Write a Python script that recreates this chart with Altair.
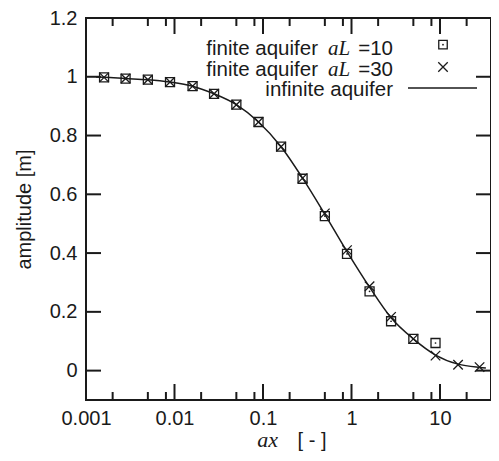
import altair as alt
import pandas as pd

# ---- data ----
x_pts = [0.0016, 0.0028, 0.005, 0.0089, 0.016, 0.028, 0.05, 0.089, 0.16,
         0.28, 0.5, 0.89, 1.6, 2.8, 5.0, 8.9, 16, 28]
amp_L10 = [0.998, 0.994, 0.990, 0.982, 0.968, 0.942, 0.905, 0.846, 0.762,
           0.653, 0.526, 0.397, 0.270, 0.168, 0.108, 0.094]
amp_L30 = [0.998, 0.994, 0.990, 0.982, 0.968, 0.942, 0.905, 0.846, 0.762,
           0.655, 0.535, 0.410, 0.287, 0.183, 0.108, 0.051, 0.020, 0.012]
curve_x = [0.0013, 0.0016, 0.0028, 0.005, 0.0089, 0.016, 0.028, 0.05, 0.089,
           0.16, 0.28, 0.5, 0.89, 1.6, 2.8, 5.0, 8.9, 16, 28, 33]
curve_amp = [0.999, 0.998, 0.994, 0.990, 0.982, 0.968, 0.942, 0.905, 0.846,
             0.762, 0.655, 0.532, 0.405, 0.284, 0.180, 0.108, 0.053, 0.022,
             0.011, 0.009]

x_major = [0.001, 0.01, 0.1, 1, 10]
x_minor = [0.002, 0.005, 0.008, 0.02, 0.05, 0.08, 0.2, 0.5, 0.8, 2, 5, 8, 20]
y_ticks = [0, 0.2, 0.4, 0.6, 0.8, 1.0, 1.2]

W, H = 405, 382
INK = "#1a1a1a"
SANS = "Liberation Sans"
SERIF = "Liberation Serif"

xscale = alt.Scale(type="log", domain=[0.001, 37.7], nice=False)
yscale = alt.Scale(domain=[-0.1, 1.2], nice=False, zero=False)

df_L10 = pd.DataFrame({"x": x_pts[:len(amp_L10)], "y": amp_L10})
df_L30 = pd.DataFrame({"x": x_pts, "y": amp_L30})
df_curve = pd.DataFrame({"x": curve_x, "y": curve_amp})
df_xmaj = pd.DataFrame({"x": x_major})
df_xmin = pd.DataFrame({"x": x_minor})
df_yt = pd.DataFrame({"y": y_ticks})

x_axis = alt.Axis(values=x_major, format="~g", ticks=False, labelFlush=False,
                  domain=False, grid=False, labelFont=SANS, labelFontSize=20,
                  labelColor=INK, labelPadding=24, labelBaseline="alphabetic",
                  title=None)
y_axis = alt.Axis(values=y_ticks, format=".1~f", ticks=False, labelFlush=False,
                  domain=False, grid=False, labelFont=SANS, labelFontSize=20,
                  labelColor=INK, labelPadding=9, labelBaseline="middle",
                  title="amplitude [m]", titleFont=SANS, titleFontSize=20,
                  titleFontWeight="normal", titleColor=INK, titleX=-62,
                  titleY=H / 2, titleAngle=270, titleBaseline="middle",
                  titleAlign="center")


def X():
    return alt.X("x:Q", scale=xscale, axis=x_axis)


def Y():
    return alt.Y("y:Q", scale=yscale, axis=y_axis)


curve = alt.Chart(df_curve).mark_line(color=INK, strokeWidth=1.5,
                                      interpolate="monotone").encode(
    x=X(), y=Y())

squares = alt.Chart(df_L10).mark_point(shape="square", filled=False, size=81,
                                       color=INK, strokeWidth=1.3, opacity=1).encode(
    x=X(), y=Y())
dots = alt.Chart(df_L10).mark_point(shape="circle", filled=True, size=3,
                                    color=INK, opacity=1).encode(x=X(), y=Y())
CROSS = "M-1,-1L1,1M-1,1L1,-1"
crosses = alt.Chart(df_L30).mark_point(shape=CROSS, filled=False, size=90,
                                       color=INK, strokeWidth=1.3, opacity=1).encode(
    x=X(), y=Y())

# inward ticks
tick_layers = [
    alt.Chart(df_xmaj).mark_rule(color=INK, strokeWidth=2).encode(
        x=X(), y=alt.value(H), y2=alt.value(H - 16)),
    alt.Chart(df_xmaj).mark_rule(color=INK, strokeWidth=2).encode(
        x=X(), y=alt.value(0), y2=alt.value(16)),
    alt.Chart(df_xmin).mark_rule(color=INK, strokeWidth=2).encode(
        x=X(), y=alt.value(H), y2=alt.value(H - 8)),
    alt.Chart(df_xmin).mark_rule(color=INK, strokeWidth=2).encode(
        x=X(), y=alt.value(0), y2=alt.value(8)),
    alt.Chart(df_yt).mark_rule(color=INK, strokeWidth=2).encode(
        y=Y(), x=alt.value(0), x2=alt.value(15)),
    alt.Chart(df_yt).mark_rule(color=INK, strokeWidth=2).encode(
        y=Y(), x=alt.value(W - 15), x2=alt.value(W)),
]

one = pd.DataFrame({"k": [0]})


def label(text, x, y, align="right", font=SANS, style="normal", size=20.5):
    return alt.Chart(one).mark_text(font=font, fontStyle=style, fontSize=size,
                                    color=INK, align=align,
                                    baseline="alphabetic").encode(
        x=alt.value(x), y=alt.value(y), text=alt.value(text))


legend_rows = [
    ("finite aquifer", "aL", "=10", 36.7),
    ("finite aquifer", "aL", "=30", 58.3),
]
legend = []
for pre, it, post, yy in legend_rows:
    legend.append(label(pre, 232, yy))
    legend.append(label(it, 242, yy, align="left", font=SERIF, style="italic", size=21))
    legend.append(label(post, 307, yy))
legend.append(label("infinite aquifer", 307, 78.3))

leg_sq = alt.Chart(one).mark_point(shape="square", filled=False, size=72,
                                   color=INK, strokeWidth=1.3, opacity=1).encode(
    x=alt.value(357), y=alt.value(26.7))
leg_dot = alt.Chart(one).mark_point(shape="circle", filled=True, size=3,
                                    color=INK, opacity=1).encode(
    x=alt.value(357), y=alt.value(26.7))
leg_x = alt.Chart(one).mark_point(shape=CROSS, filled=False, size=90,
                                  color=INK, strokeWidth=1.3, opacity=1).encode(
    x=alt.value(357), y=alt.value(49))
leg_line = alt.Chart(one).mark_rule(color=INK, strokeWidth=1.5).encode(
    x=alt.value(322), x2=alt.value(391), y=alt.value(70))

xtitle = [
    label("ax", 181.5, 429, align="center", font=SERIF, style="italic", size=22),
    label("[ - ]", 226, 429, align="center", size=20),
]

chart = alt.layer(
    curve, squares, dots, crosses, *tick_layers, *legend,
    leg_sq, leg_dot, leg_x, leg_line, *xtitle
).properties(
    width=W, height=H,
    autosize=alt.AutoSizeParams(type="none"),
    padding={"left": 78, "top": 10, "right": 0, "bottom": 51},
).configure_view(stroke=INK, strokeWidth=2)

chart.save("out.html", embed_options={"renderer": "svg", "actions": False})
